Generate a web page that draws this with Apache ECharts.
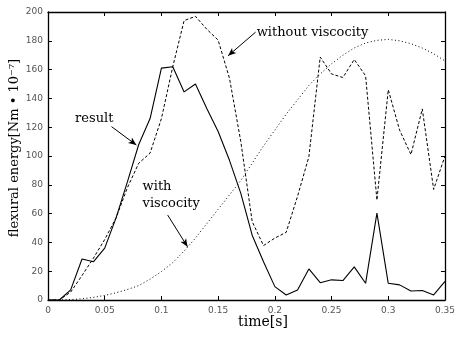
<!DOCTYPE html>
<html><head><meta charset="utf-8">
<script src="https://cdn.jsdelivr.net/npm/echarts@6/dist/echarts.min.js"></script>
<style>html,body{margin:0;padding:0;background:#fff}#c{width:458px;height:338px}</style>
</head><body><div id="c"></div>
<script>
const time = [0,0.01,0.02,0.03,0.04,0.05,0.06,0.07,0.08,0.09,0.10,0.11,0.12,0.13,0.14,0.15,0.16,0.17,0.18,0.19,0.20,0.21,0.22,0.23,0.24,0.25,0.26,0.27,0.28,0.29,0.30,0.31,0.32,0.33,0.34,0.35];
const result = [0,0,7,28.5,26.5,36,57,82,108,126,161,162,144.5,150,133,117,97,74,45,26.5,9.3,3.5,7,21.6,12,14,13.5,23,11.6,60.3,11.6,10.5,6.3,6.6,3.5,13];
const withoutViscosity = [0,0,5.5,17,29,42,57,78,95,102,126,162,194,197,188,180.5,154,110,54.5,37.8,43,47,72,99.5,168.7,157,154.5,167,155.7,69.4,146,118,101,132.7,76.8,100];
const withViscosity = [0,0,0.3,0.8,1.8,3.2,5,7.3,10,14.5,19.7,26,34,43,53,63,73,83,95,107,118,129,139,149,157,164,170,175,178.5,180.3,181,180,178,175,171,166];
const xTicks = {min:0, max:0.35, interval:0.05};
const yTicks = {min:0, max:200, interval:20};
const arrows = [
  [[0.183,186],[0.1588,169.6]],
  [[0.056,120.4],[0.0779,107.6]],
  [[0.1055,59],[0.123,37]]
];
const notes = [
  {text:'without viscocity', at:[0.184,185.6]},
  {text:'result', at:[0.0239,125.8]},
  {text:'with', at:[0.0834,79]},
  {text:'viscocity', at:[0.0834,66.6]}
];
const yName = 'flexural energy[Nm \u2022 10\u207B\u2077]';
const xName = 'time[s]';

const pair = a => time.map((t,i)=>[t,a[i]]);
const chart = echarts.init(document.getElementById('c'), null, {renderer:'canvas'});
const serif = 'DejaVu Serif';
const axBase = {
  type:'value', splitLine:{show:false},
  axisLine:{show:true, onZero:false, lineStyle:{color:'#000', width:1.3}},
  axisTick:{show:true, inside:true, length:4, lineStyle:{color:'#000', width:1}},
};
chart.setOption({
  animation:false,
  backgroundColor:'#fff',
  grid:{left:48, right:10, top:12, bottom:38, containLabel:false},
  xAxis:[
    Object.assign({}, axBase, xTicks, {position:'bottom',
      axisLabel:{show:true, color:'#555', fontSize:9, fontFamily:'DejaVu Sans', margin:6}}),
    Object.assign({}, axBase, xTicks, {position:'top', axisLabel:{show:false}})
  ],
  yAxis:[
    Object.assign({}, axBase, yTicks, {position:'left',
      axisLabel:{show:true, color:'#555', fontSize:9, fontFamily:'DejaVu Sans', margin:5}}),
    Object.assign({}, axBase, yTicks, {position:'right', axisLabel:{show:false}})
  ],
  series:[
    {type:'line', data:pair(result), showSymbol:false, lineStyle:{color:'#000', width:1.1}, z:3,
     markLine:{silent:true, symbol:['none','arrow'], symbolSize:[5,8], label:{show:false},
       lineStyle:{color:'#000', width:1, type:'solid'},
       data: arrows.map(a=>[{coord:a[0]},{coord:a[1]}])}},
    {type:'line', data:pair(withoutViscosity), showSymbol:false, lineStyle:{color:'#000', width:1, type:[3,2]}},
    {type:'line', data:pair(withViscosity), showSymbol:false, lineStyle:{color:'#000', width:1, type:[1,2.5]}}
  ]
});
const g = notes.map(n=>{
  const p = chart.convertToPixel({gridIndex:0}, n.at);
  return {type:'text', x:p[0], y:p[1], style:{text:n.text, fill:'#000', font:'13px "'+serif+'"', textAlign:'left', textVerticalAlign:'middle'}};
});
g.push({type:'text', x:15, y:148, rotation:Math.PI/2, style:{text:yName, fill:'#000', font:'13px "'+serif+'"', textAlign:'center', textVerticalAlign:'middle'}});
g.push({type:'text', x:263, y:322, style:{text:xName, fill:'#000', font:'14px "'+serif+'"', textAlign:'center', textVerticalAlign:'middle'}});
chart.setOption({graphic:g});
</script></body></html>
